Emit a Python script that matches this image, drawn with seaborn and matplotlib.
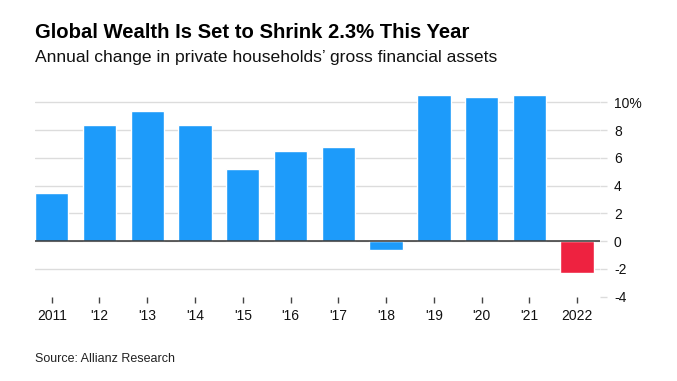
import numpy as np
import pandas as pd
import seaborn as sns
import matplotlib.pyplot as plt

# annual change in private households' gross financial assets, %
years = ["2011", "'12", "'13", "'14", "'15", "'16", "'17", "'18", "'19", "'20", "'21", "2022"]
change = [3.45, 8.4, 9.35, 8.4, 5.2, 6.5, 6.8, -0.65, 10.5, 10.35, 10.5, -2.3]
bar_colors = ["#1d9bfa"] * 11 + ["#ee2240"]
ytick_vals = [-4, -2, 0, 2, 4, 6, 8, 10]
ytick_labels = ["-4", "-2", "0", "2", "4", "6", "8", "10%"]

df = pd.DataFrame({"year": years, "change": change})

sns.set_style("white")
plt.rcParams['font.family'] = ['Liberation Sans', 'DejaVu Sans']

fig = plt.figure(figsize=(6.77, 3.81), dpi=100)
ax = fig.add_axes([35 / 677, 1 - 296.7 / 381, (600 - 35) / 677, (296.7 - 94) / 381])

sns.barplot(data=df, x="year", y="change", hue="year", palette=bar_colors,
            legend=False, width=0.7, saturation=1, ax=ax, zorder=3)

ax.axhline(0, color="#333333", lw=1.1, zorder=4)
ax.set_ylim(-4, 10.6)
ax.set_xlim(-0.35, 11.48)

ax.yaxis.tick_right()
ax.set_yticks(ytick_vals)
ax.set_yticklabels(ytick_labels)
ax.grid(axis="y", color="#dcdcdc", lw=1, zorder=0)
ax.get_ygridlines()[0].set_visible(False)
ax.tick_params(axis="y", length=5, width=1, color="#dcdcdc", pad=5,
               labelsize=10, labelcolor="#111111")
ax.tick_params(axis="x", length=4, width=1, color="#444444", pad=5,
               labelsize=10, labelcolor="#111111", bottom=True)
for lab in ax.get_yticklabels():
    lab.set_ha("left")

for s in ax.spines.values():
    s.set_visible(False)
ax.set_xlabel("")
ax.set_ylabel("")

fig.text(35 / 677, 1 - 38 / 381, "Global Wealth Is Set to Shrink 2.3% This Year",
         fontsize=14.6, fontweight="bold", color="#000000", va="baseline")
fig.text(35 / 677, 1 - 62 / 381, "Annual change in private households\u2019 gross financial assets",
         fontsize=12.6, color="#111111", va="baseline")
fig.text(35 / 677, 1 - 362 / 381, "Source: Allianz Research",
         fontsize=9, color="#222222", va="baseline")

plt.savefig("out.png", dpi=100)
